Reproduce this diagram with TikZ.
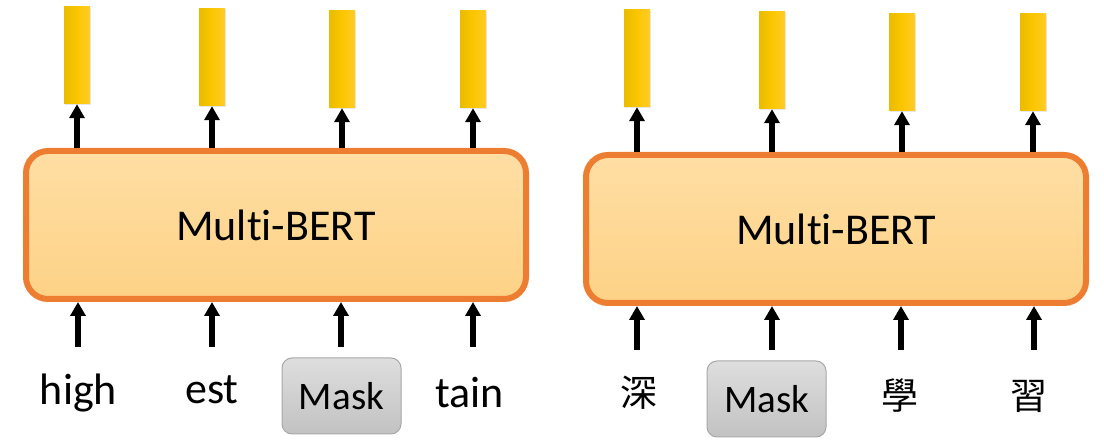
\documentclass[tikz,border=0pt]{standalone}
\usepackage{fontspec}
\setmainfont{Carlito}[Ligatures=NoCommon]
\newfontfamily\cjk{Noto Sans CJK TC}
\usetikzlibrary{arrows.meta,shadows}
\definecolor{borderorange}{HTML}{ED7D31}
\definecolor{boxtop}{HTML}{FFDEA4}
\definecolor{boxbot}{HTML}{FDD286}
\definecolor{barL}{HTML}{E8BC00}
\definecolor{barM}{HTML}{FCC600}
\definecolor{barR}{HTML}{FFCB2A}
\definecolor{masktop}{HTML}{DEDEDE}
\definecolor{maskbot}{HTML}{C2C2C2}
\definecolor{maskline}{HTML}{A8A8A8}
\tikzset{
  bertbox/.style={rectangle, rounded corners=22pt, draw=borderorange, line width=6pt,
    top color=boxtop, bottom color=boxbot, minimum width=500pt, minimum height=148pt,
    inner sep=0pt, font=\fontsize{44}{50}\selectfont},
  vecbar/.style={rectangle, inner sep=0pt, minimum width=26pt, minimum height=97pt,
    left color=barL, right color=barR, middle color=barM,
    drop shadow={shadow xshift=1pt, shadow yshift=-1.5pt, opacity=0.18}},
  maskbox/.style={rectangle, rounded corners=10pt, draw=maskline, line width=1pt,
    top color=masktop, bottom color=maskbot, minimum width=119pt, minimum height=76pt,
    inner sep=0pt, font=\fontsize{39}{44}\selectfont},
  word/.style={inner sep=0pt, anchor=base, font=\fontsize{44}{50}\selectfont},
  cjkword/.style={inner sep=0pt, anchor=center, font=\cjk\fontsize{37}{44}\selectfont},
  arr/.style={line width=5.5pt, -{Triangle[width=15pt,length=14pt]}},
}
\begin{document}
\begin{tikzpicture}[x=1pt,y=-1pt]
\useasboundingbox (0,0) rectangle (1104,443);
% ---------- left panel ----------
\node[bertbox] (bL) at (276,225) {Multi-BERT};
\node[vecbar] (oL1) at (77,55.5) {};
\node[vecbar] (oL2) at (212,57.5) {};
\node[vecbar] (oL3) at (342,59.5) {};
\node[vecbar] (oL4) at (473,59.5) {};
\foreach \i in {1,2,3,4}{
  \draw[arr] (oL\i.south |- bL.north) -- (oL\i.south);
}
\node[word] (wL1) at (78.5,405) {high};
\node[word] (wL2) at (212,404) {est};
\node[maskbox] (wL3) at (341.5,396) {Mask};
\node[word] (wL4) at (469.5,408) {tain};
\coordinate (iL1) at (78,347);
\coordinate (iL2) at (212,347);
\coordinate (iL3) at (341,347);
\coordinate (iL4) at (473,347);
\foreach \i in {1,2,3,4}{
  \draw[arr] (iL\i) -- (iL\i |- bL.south);
}
% ---------- right panel ----------
\node[bertbox] (bR) at (836,229) {Multi-BERT};
\node[vecbar] (oR1) at (637,58.5) {};
\node[vecbar] (oR2) at (772,60.5) {};
\node[vecbar] (oR3) at (902,62.5) {};
\node[vecbar] (oR4) at (1033,62.5) {};
\foreach \i in {1,2,3,4}{
  \draw[arr] (oR\i.south |- bR.north) -- (oR\i.south);
}
\node[cjkword] (wR1) at (639,393) {深};
\node[maskbox] (wR2) at (766.5,399) {Mask};
\node[cjkword] (wR3) at (900,396) {學};
\node[cjkword] (wR4) at (1029,396) {習};
\coordinate (iR1) at (637,350);
\coordinate (iR2) at (772,350);
\coordinate (iR3) at (901,350);
\coordinate (iR4) at (1034,350);
\foreach \i in {1,2,3,4}{
  \draw[arr] (iR\i) -- (iR\i |- bR.south);
}
\end{tikzpicture}
\end{document}
